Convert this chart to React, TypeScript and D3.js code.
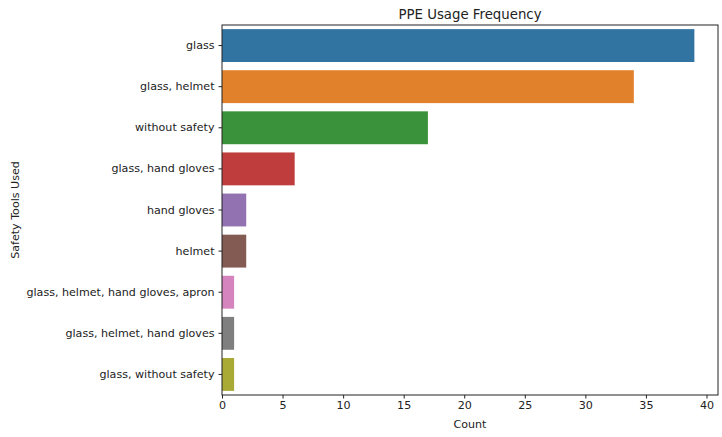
import React, { useEffect, useRef } from 'react';
import * as d3 from 'd3';

const categories = [
  'glass',
  'glass, helmet',
  'without safety',
  'glass, hand gloves',
  'hand gloves',
  'helmet',
  'glass, helmet, hand gloves, apron',
  'glass, helmet, hand gloves',
  'glass, without safety',
];
const counts = [39, 34, 17, 6, 2, 2, 1, 1, 1];
const colors = ['#3274a1', '#e1812c', '#3a923a', '#c03d3e', '#9372b2', '#845b53', '#d684bd', '#7f7f7f', '#a9aa35'];
const xTicks = [0, 5, 10, 15, 20, 25, 30, 35, 40];

const App = () => {
  const svgRef = useRef<SVGSVGElement>(null);

  useEffect(() => {
    const svg = d3.select(svgRef.current);
    svg.selectAll('*').remove();

    const width = 722, height = 437;
    const margin = { top: 25, right: 4, bottom: 42, left: 222 };
    const chartWidth = width - margin.left - margin.right;
    const chartHeight = height - margin.top - margin.bottom;
    const font = 'DejaVu Sans, sans-serif';
    const fs = 11.1;

    const xScale = d3.scaleLinear().domain([0, 39 * 1.05]).range([0, chartWidth]);
    const yScale = d3.scaleBand().domain(categories).range([0, chartHeight]).paddingInner(0.2).paddingOuter(0.1);

    const chart = svg.append('g').attr('transform', `translate(${margin.left},${margin.top})`);

    chart.selectAll('.bar')
      .data(counts)
      .enter()
      .append('rect')
      .attr('x', 0)
      .attr('y', (d, i) => yScale(categories[i])!)
      .attr('width', d => xScale(d))
      .attr('height', yScale.bandwidth())
      .attr('fill', (d, i) => colors[i]);

    chart.append('rect')
      .attr('width', chartWidth)
      .attr('height', chartHeight)
      .attr('fill', 'none')
      .attr('stroke', '#222')
      .attr('stroke-width', 1);

    const xAxis = chart.append('g')
      .attr('transform', `translate(0,${chartHeight})`)
      .call(d3.axisBottom(xScale).tickValues(xTicks).tickSize(3.5).tickPadding(3));
    const yAxis = chart.append('g')
      .call(d3.axisLeft(yScale).tickSize(3.5).tickPadding(4));

    [xAxis, yAxis].forEach(a => {
      a.select('.domain').remove();
      a.selectAll('line').attr('stroke', '#222');
      a.selectAll('text').attr('font-family', font).attr('font-size', fs).attr('fill', '#222');
    });

    svg.append('text')
      .attr('x', margin.left + chartWidth / 2)
      .attr('y', 19)
      .attr('text-anchor', 'middle')
      .attr('font-family', font)
      .attr('font-size', 13.3)
      .attr('fill', '#222')
      .text('PPE Usage Frequency');

    svg.append('text')
      .attr('x', margin.left + chartWidth / 2)
      .attr('y', height - 9)
      .attr('text-anchor', 'middle')
      .attr('font-family', font)
      .attr('font-size', fs)
      .attr('fill', '#222')
      .text('Count');

    svg.append('text')
      .attr('transform', `translate(19,${margin.top + chartHeight / 2}) rotate(-90)`)
      .attr('text-anchor', 'middle')
      .attr('font-family', font)
      .attr('font-size', fs)
      .attr('fill', '#222')
      .text('Safety Tools Used');
  }, []);

  return (
    <svg ref={svgRef} width={722} height={437} style={{ position: 'absolute', left: 0, top: 0 }} />
  );
};

export default App;
